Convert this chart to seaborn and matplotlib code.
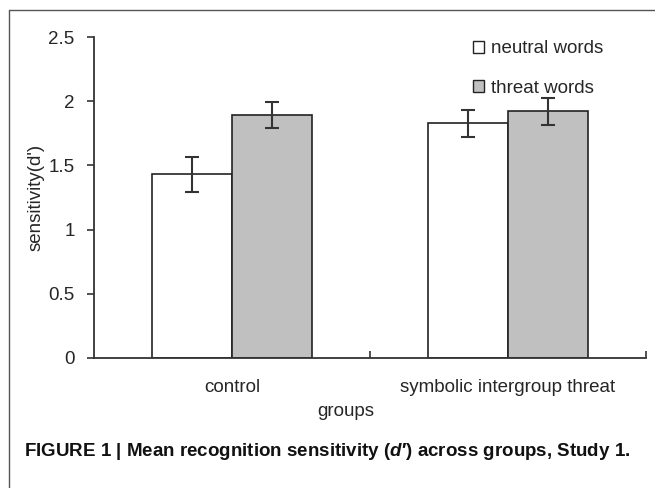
import matplotlib
matplotlib.use("Agg")
import matplotlib.pyplot as plt
from matplotlib.lines import Line2D
import seaborn as sns
import pandas as pd

# ---- data ----
groups = ["control", "symbolic intergroup threat"]
conditions = ["neutral words", "threat words"]
neutral_means = [1.43, 1.83]
threat_means = [1.89, 1.92]
neutral_err = [0.135, 0.105]
threat_err = [0.10, 0.105]
yticks = [0, 0.5, 1, 1.5, 2, 2.5]
ytick_labels = ["0", "0.5", "1", "1.5", "2", "2.5"]

df = pd.DataFrame({
    "group": groups * 2,
    "condition": [conditions[0]] * 2 + [conditions[1]] * 2,
    "value": neutral_means + threat_means,
})
errs = {conditions[0]: neutral_err, conditions[1]: threat_err}

sns.set_style("white")
plt.rcParams["font.family"] = ["Liberation Sans", "DejaVu Sans"]
plt.rcParams["mathtext.fontset"] = "custom"
plt.rcParams["mathtext.it"] = "Liberation Sans:italic:bold"
plt.rcParams["mathtext.rm"] = "Liberation Sans:bold"

W, H = 655, 488
fig = plt.figure(figsize=(W / 100, H / 100), dpi=100)
ax = fig.add_axes([94 / W, 1 - 358 / H, (646 - 94) / W, (358 - 37) / H])

palette = {conditions[0]: "white", conditions[1]: "#c0c0c0"}
sns.barplot(data=df, x="group", y="value", hue="condition", order=groups,
            hue_order=conditions, palette=palette, width=0.58,
            edgecolor="#222222", linewidth=1.2, errorbar=None, ax=ax,
            saturation=1)

# error bars from the bar patches
for cont, cond in zip(ax.containers, conditions):
    xs = [p.get_x() + p.get_width() / 2 for p in cont.patches]
    hs = [p.get_height() for p in cont.patches]
    ax.errorbar(xs, hs, yerr=errs[cond], fmt="none", ecolor="#333333",
                elinewidth=1.5, capsize=5, capthick=1.5, zorder=5)

ax.set_xlim(-0.5, 1.5)
ax.set_ylim(0, 2.5)
ax.set_yticks(yticks)
ax.set_yticklabels(ytick_labels)

for s in ["top", "right"]:
    ax.spines[s].set_visible(False)
for s in ["left", "bottom"]:
    ax.spines[s].set_color("#333333")
    ax.spines[s].set_linewidth(1.3)

FS = 13.5
ax.tick_params(axis="y", direction="out", length=5, width=1.2, color="#333333",
               labelsize=FS, pad=9, left=True)
ax.tick_params(axis="x", which="major", length=0, labelsize=FS, pad=15)
ax.set_xticks([0.5, 1.5], minor=True)
ax.tick_params(axis="x", which="minor", direction="in", length=5, width=1.2,
               color="#333333", bottom=True)

ax.set_xlabel("groups", fontsize=FS)
ax.xaxis.set_label_coords(0.4565, -0.14)
ax.set_ylabel("sensitivity(d')", fontsize=FS)
ax.yaxis.set_label_coords(-0.09, 0.5)

leg = ax.legend(loc="upper left", bbox_to_anchor=(0.686, 0.99), frameon=False,
                fontsize=FS, handlelength=0.62, handleheight=0.62,
                handletextpad=0.35, labelspacing=1.2, borderpad=0,
                borderaxespad=0)
for h in leg.legend_handles:
    h.set_edgecolor("#222222")
    h.set_linewidth(1.0)

# outer frame (left and top edges)
fig.add_artist(Line2D([8.5 / W, 8.5 / W], [0, 1 - 10 / H], transform=fig.transFigure,
                      color="#555555", lw=1))
fig.add_artist(Line2D([8.5 / W, 1], [1 - 10 / H, 1 - 10 / H], transform=fig.transFigure,
                      color="#555555", lw=1))

fig.text(24 / W, 1 - 451 / H,
         "FIGURE 1 | Mean recognition sensitivity ($\\mathit{d}$\u2032) across groups, Study 1.",
         fontsize=13.5, fontweight="bold", va="center", ha="left", color="#111111")

fig.savefig("out.png", dpi=100)
